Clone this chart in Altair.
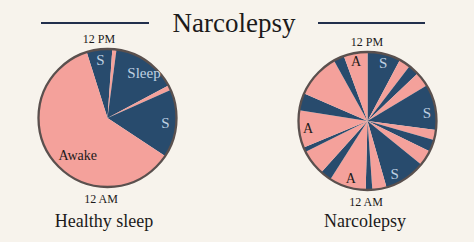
import math
import altair as alt
import pandas as pd

BG = "#F7F3EC"
PINK = "#F4A19B"
NAVY = "#284B6D"
RIM = "#5A504E"
INK = "#1C1A1A"
LIGHT = "#BFD0E2"
LINE = "#222F4C"
FONT = "Liberation Serif"

# Healthy sleep clock (minutes per segment, clockwise, 24 h = full circle, 12 PM at top)
healthy_state = ["S", "A", "S", "A", "S", "A"]
healthy_minutes = [86, 14, 218, 16, 230, 876]
healthy_start = -70  # minutes relative to 12 PM

# Narcolepsy clock
narco_state = ["S", "A"] * 10
narco_minutes = [112, 38, 36, 50, 154, 34, 40, 52, 140, 48,
                 22, 124, 38, 86, 16, 126, 58, 150, 36, 80]
narco_start = 0

# labels: text and clock position (minutes from 12 PM)
healthy_light_text = ["S", "Sleep", "S"]
healthy_light_at = [-28, 156, 379]
healthy_dark_text = ["Awake"]
healthy_dark_at = [873]
narco_light_text = ["S", "S", "S"]
narco_light_at = [61, 331, 612]
narco_dark_text = ["A", "A", "A"]
narco_dark_at = [1396, 785, 1049]

theta_scale = alt.Scale(domain=[0, 1440], range=[0, 2 * math.pi])
color_scale = alt.Scale(domain=["S", "A"], range=[NAVY, PINK])


def pie(states, minutes, offset, cx, cy, r, light_text, light_at, dark_text, dark_at,
        r_light, r_dark, dark_size):
    df = pd.DataFrame({"i": range(len(states)), "state": states, "minutes": minutes})
    slices = (
        alt.Chart(df)
        .transform_window(cum="sum(minutes)", sort=[alt.SortField("i")], frame=[None, 0])
        .transform_calculate(start=f"datum.cum - datum.minutes + ({offset})",
                             end=f"datum.cum + ({offset})")
        .mark_arc(radius=r, stroke=None)
        .encode(
            x=alt.value(cx), y=alt.value(cy),
            theta=alt.Theta("start:Q", scale=theta_scale, stack=False),
            theta2="end:Q",
            color=alt.Color("state:N", scale=color_scale, legend=None),
        )
    )
    rim = (
        alt.Chart(alt.Data(values=[{}]))
        .mark_point(shape="circle", size=(2 * r) ** 2, filled=False,
                    stroke=RIM, strokeWidth=2.3, opacity=1)
        .encode(x=alt.value(cx), y=alt.value(cy))
    )
    ldf = pd.DataFrame({"t": light_text, "at": light_at})
    ddf = pd.DataFrame({"t": dark_text, "at": dark_at})
    light = (
        alt.Chart(ldf)
        .mark_text(radius=r_light, font=FONT, fontSize=15, color=LIGHT, baseline="middle")
        .encode(x=alt.value(cx), y=alt.value(cy),
                theta=alt.Theta("at:Q", scale=theta_scale, stack=False), text="t:N")
    )
    dark = (
        alt.Chart(ddf)
        .mark_text(radius=r_dark, font=FONT, fontSize=dark_size, color=INK, baseline="middle")
        .encode(x=alt.value(cx), y=alt.value(cy),
                theta=alt.Theta("at:Q", scale=theta_scale, stack=False), text="t:N")
    )
    return [slices, rim, light, dark]


def label(text, x, y, size, baseline="alphabetic"):
    return (
        alt.Chart(alt.Data(values=[{}]))
        .mark_text(text=text, font=FONT, fontSize=size, color=INK, baseline=baseline,
                   align="center")
        .encode(x=alt.value(x), y=alt.value(y))
    )


def hline(x1, x2, y):
    return (
        alt.Chart(alt.Data(values=[{}]))
        .mark_rule(color=LINE, strokeWidth=2)
        .encode(x=alt.value(x1), x2=alt.value(x2), y=alt.value(y))
    )


layers = []
layers += pie(healthy_state, healthy_minutes, healthy_start, 107.5, 118, 69,
              healthy_light_text, healthy_light_at, healthy_dark_text, healthy_dark_at,
              58, 48, 14)
layers += pie(narco_state, narco_minutes, narco_start, 367.5, 121, 69,
              narco_light_text, narco_light_at, narco_dark_text, narco_dark_at,
              60, 60, 14)
layers += [
    hline(41, 149, 23),
    hline(318, 425, 23),
    label("Narcolepsy", 234, 32, 27),
    label("12 PM", 99, 43, 12),
    label("12 PM", 367, 46, 12),
    label("12 AM", 101, 203, 12),
    label("12 AM", 366, 206, 12),
    label("Healthy sleep", 104, 227, 18),
    label("Narcolepsy", 365, 227, 18),
]

chart = (
    alt.layer(*layers)
    .properties(width=474, height=242, background=BG, padding=0,
                autosize=alt.AutoSizeParams(type="none"))
    .configure_view(stroke=None)
)

chart.save("out.html", embed_options={"renderer": "svg", "actions": False})
